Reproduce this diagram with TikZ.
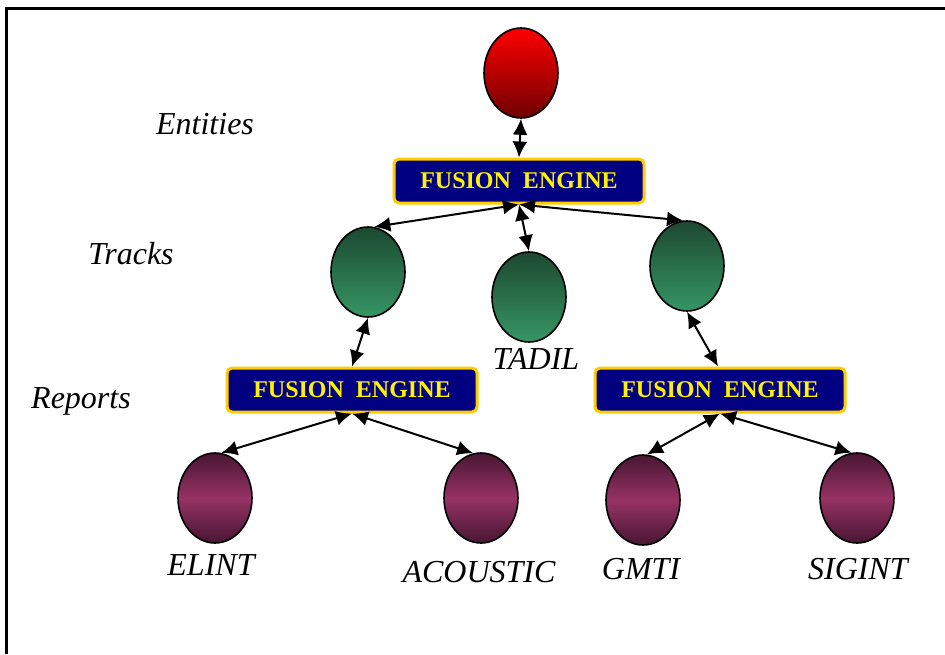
\documentclass[tikz,border=0pt]{standalone}
\usepackage{fontspec}
\setmainfont{Liberation Serif}
\usetikzlibrary{shapes.geometric,arrows.meta}

\definecolor{navyfill}{RGB}{0,0,128}
\definecolor{goldline}{RGB}{255,204,0}
\definecolor{darkred}{RGB}{110,0,0}
\definecolor{trktop}{RGB}{28,72,48}
\definecolor{trkbot}{RGB}{54,150,100}
\definecolor{repdark}{RGB}{72,22,50}
\definecolor{repmid}{RGB}{150,50,100}

\begin{document}
\begin{tikzpicture}
[
x=1pt, y=-1pt,
engine/.style={rectangle, rounded corners=5pt, draw=goldline, line width=3pt, fill=navyfill,
  minimum width=250pt, minimum height=44pt, text=yellow, font=\fontsize{24}{28}\selectfont\bfseries},
blob/.style={ellipse, draw, line width=1.6pt, minimum width=74pt, minimum height=90pt, inner sep=0pt},
entity/.style={blob, top color=red, bottom color=darkred},
track/.style={blob, top color=trktop, bottom color=trkbot},
report/.style={blob, top color=repdark, bottom color=repdark, middle color=repmid},
tag/.style={anchor=base, inner sep=0pt, font=\fontsize{32}{36}\selectfont\itshape},
link/.style={{Latex[length=16pt,width=15pt]}-{Latex[length=16pt,width=15pt]}, line width=2pt}
]
\useasboundingbox (0,0) rectangle (945,654);
\draw[line width=3pt] (6,654) -- (6,8.5) -- (945,8.5);

% levels
\node[tag] (lent) at (205,134) {Entities};
\node[tag] (ltrk) at (131,264) {Tracks};
\node[tag] (lrep) at (81,408) {Reports};

% top
\node[entity] (ent) at (521,73) {};
\node[engine] (fe0) at (519,181) {FUSION\ \ ENGINE};

% tracks
\node[track] (trk1) at (368,272) {};
\node[track] (tadil) at (529,297) {};
\node[track] (trk2) at (687,266) {};
\node[tag] (ltadil) at (536,369) {TADIL};

% lower engines
\node[engine] (fe1) at (352,390) {FUSION\ \ ENGINE};
\node[engine] (fe2) at (720,390) {FUSION\ \ ENGINE};

% reports
\node[report] (elint) at (215,498) {};
\node[report] (acoustic) at (481,498) {};
\node[report] (gmti) at (643,500) {};
\node[report] (sigint) at (857,498) {};
\node[tag] (lelint) at (211,575) {ELINT};
\node[tag] (lacoustic) at (479,582) {ACOUSTIC};
\node[tag] (lgmti) at (641,579) {GMTI};
\node[tag] (lsigint) at (858,579) {SIGINT};

\draw[link] (ent.south) -- (fe0.north);
\draw[link] (fe0.south) -- (trk1.82);
\draw[link] (fe0.south) -- (tadil.north);
\draw[link] (fe0.south) -- (trk2.95);
\draw[link] (trk1.south) -- (fe1.north);
\draw[link] (trk2.south) -- ([xshift=-2pt]fe2.north);
\draw[link] (fe1.south) -- (elint.82);
\draw[link] (fe1.south) -- (acoustic.100);
\draw[link] (fe2.south) -- (gmti.85);
\draw[link] (fe2.south) -- (sigint.97);
\end{tikzpicture}
\end{document}
